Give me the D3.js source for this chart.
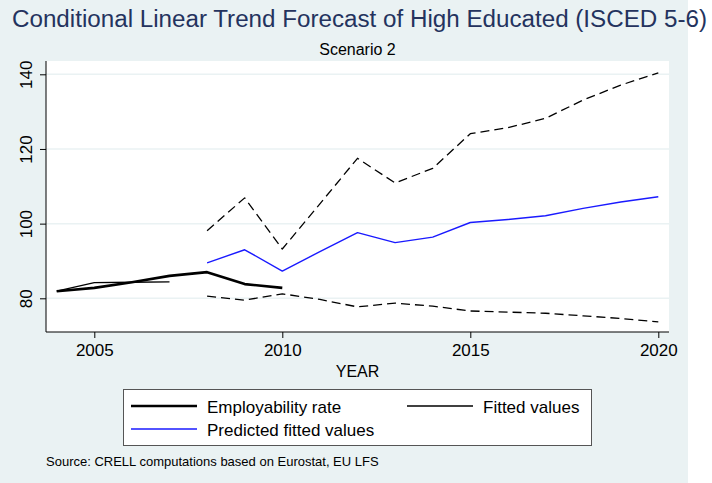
<!DOCTYPE html>
<html>
<head>
<meta charset="utf-8">
<script src="https://cdn.jsdelivr.net/npm/d3@7"></script>
<style>
  body { margin: 0; background: #fff; }
  svg { display: block; font-family: "Liberation Sans", Arial, sans-serif; }
</style>
</head>
<body>
<svg width="712" height="483"></svg>
<script>
// data
var histYears = [2004, 2005, 2006, 2007, 2008, 2009, 2010];
var employ = [81.9, 82.8, 84.3, 86.0, 87.0, 83.8, 82.8];

var fitYears = [2004, 2005, 2006, 2007];
var fitted = [81.9, 84.2, 84.3, 84.4];

var predYears = [2008, 2009, 2010, 2011, 2012, 2013, 2014, 2015, 2016, 2017, 2018, 2019, 2020];
var predicted = [89.5, 93.0, 87.3, 92.5, 97.6, 94.9, 96.4, 100.3, 101.1, 102.1, 104.1, 105.8, 107.2];
var upper = [98.1, 106.9, 93.2, 105.3, 117.5, 110.9, 114.8, 124.1, 125.7, 128.2, 133.1, 137.1, 140.4];
var lower = [80.6, 79.5, 81.2, 79.7, 77.7, 78.7, 77.9, 76.6, 76.3, 76.0, 75.3, 74.6, 73.7];

var xTicks = [2005, 2010, 2015, 2020];
var yTicks = [80, 100, 120, 140];

var svg = d3.select('svg');
var bg = '#eaf2f3';

// plot region
var L = 46, R = 669, T = 61, B = 332;

var x = d3.scaleLinear().domain([2004, 2020]).range([56.7, 658.3]);
var y = d3.scaleLinear().domain([80, 140]).range([298.3, 74.3]);

svg.append('rect').attr('x', 0).attr('y', 0).attr('width', 688).attr('height', 483).attr('fill', bg);
svg.append('rect').attr('x', L).attr('y', T).attr('width', R - L).attr('height', B - T).attr('fill', '#fff');

// gridlines
svg.append('g').selectAll('line').data(yTicks).enter().append('line')
    .attr('x1', L).attr('x2', R)
    .attr('y1', function (d) { return y(d); })
    .attr('y2', function (d) { return y(d); })
    .attr('stroke', bg).attr('stroke-width', 1.5);

// titles
svg.append('text').attr('x', 12).attr('y', 27)
    .attr('font-size', 23).attr('fill', '#24335e')
    .attr('textLength', 695).attr('lengthAdjust', 'spacingAndGlyphs')
    .text('Conditional Linear Trend Forecast of High Educated (ISCED 5-6)');
svg.append('text').attr('x', (L + R) / 2).attr('y', 55)
    .attr('text-anchor', 'middle').attr('font-size', 16).attr('fill', '#000')
    .text('Scenario 2');

// axes
var xAxis = d3.axisBottom(x).tickValues(xTicks).tickSize(6).tickPadding(6).tickFormat(d3.format('d'));
var gx = svg.append('g').attr('transform', 'translate(0,' + B + ')').call(xAxis);
gx.select('.domain').remove();
gx.selectAll('.tick line').attr('stroke', '#000');
gx.selectAll('.tick text').attr('font-size', 17).attr('fill', '#000').attr('font-family', null);

var yAxis = d3.axisLeft(y).tickValues(yTicks).tickSize(6);
var gy = svg.append('g').attr('transform', 'translate(' + L + ',0)').call(yAxis);
gy.select('.domain').remove();
gy.selectAll('.tick line').attr('stroke', '#000');
gy.selectAll('.tick text')
    .attr('font-size', 17).attr('fill', '#000').attr('font-family', null)
    .attr('x', null).attr('dy', null)
    .attr('text-anchor', 'middle')
    .attr('transform', 'translate(-14,0) rotate(-90)');

svg.append('line').attr('x1', L).attr('x2', R).attr('y1', B).attr('y2', B).attr('stroke', '#000');
svg.append('line').attr('x1', L).attr('x2', L).attr('y1', T).attr('y2', B).attr('stroke', '#000');

svg.append('text').attr('x', (L + R) / 2).attr('y', 377)
    .attr('text-anchor', 'middle').attr('font-size', 16).text('YEAR');

// series
var line = d3.line()
    .x(function (d) { return x(d[0]); })
    .y(function (d) { return y(d[1]); });

function draw(years, vals, color, width, dash) {
    svg.append('path')
        .datum(d3.zip(years, vals))
        .attr('d', line)
        .attr('fill', 'none')
        .attr('stroke', color)
        .attr('stroke-width', width)
        .attr('stroke-dasharray', dash)
        .attr('stroke-linejoin', 'round');
}

draw(predYears, upper, '#000', 1.3, '9,5');
draw(predYears, lower, '#000', 1.3, '9,5');
draw(predYears, predicted, '#1a1aff', 1.4, null);
draw(fitYears, fitted, '#000', 1.3, null);
draw(histYears, employ, '#000', 2.6, null);

// legend
var legend = [
    { label: 'Employability rate', color: '#000', width: 2.6, lx: 131, ly: 406 },
    { label: 'Fitted values', color: '#000', width: 1.3, lx: 407, ly: 406 },
    { label: 'Predicted fitted values', color: '#1a1aff', width: 1.4, lx: 131, ly: 429 }
];
svg.append('rect').attr('x', 123.5).attr('y', 389.5).attr('width', 468).attr('height', 56)
    .attr('fill', '#fff').attr('stroke', '#555').attr('stroke-width', 1);
var lg = svg.append('g').selectAll('g').data(legend).enter().append('g');
lg.append('line')
    .attr('x1', function (d) { return d.lx; })
    .attr('x2', function (d) { return d.lx + 66; })
    .attr('y1', function (d) { return d.ly; })
    .attr('y2', function (d) { return d.ly; })
    .attr('stroke', function (d) { return d.color; })
    .attr('stroke-width', function (d) { return d.width; });
lg.append('text')
    .attr('x', function (d) { return d.lx + 76; })
    .attr('y', function (d) { return d.ly + 6.5; })
    .attr('font-size', 17)
    .text(function (d) { return d.label; });

svg.append('text').attr('x', 46).attr('y', 466).attr('font-size', 13)
    .text('Source: CRELL computations based on Eurostat, EU LFS');
</script>
</body>
</html>
